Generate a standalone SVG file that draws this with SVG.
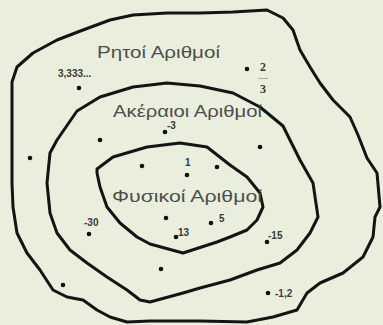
<svg xmlns="http://www.w3.org/2000/svg" width="383" height="325" viewBox="0 0 383 325">
<style>
.set{fill:none;stroke:#141414;stroke-width:3;stroke-linejoin:round;stroke-linecap:round}
.title{font-family:"Liberation Sans",Arial,sans-serif;font-size:17px;fill:#4e4e4e}
.num{font-family:"Liberation Sans",Arial,sans-serif;font-size:10px;font-weight:bold;fill:#3a3a3a}
.frac{font-family:"Liberation Serif",serif;font-size:12px;font-weight:bold;fill:#3a3a3a;text-anchor:middle}
.pt{fill:#111}
</style>
<rect width="383" height="325" fill="#e9efdc"/>
<g id="connectors">
<path id="rational-boundary" class="set" d="M12,153 L12,120 L12,82 L17,67 L33,53 L57,40 L83,30 L110,20 L133,15 L167,13 L200,13 L233,12 L267,10 L283,18 L293,30 L300,50 L310,67 L320,83 L333,100 L350,117 L358,135 L367,158 L377,173 L380,207 L375,217 L373,237 L363,257 L343,273 L320,283 L307,293 L297,310 L273,317 L247,322 L200,321 L150,321 L127,322 L110,317 L97,310 L83,300 L67,297 L53,290 L40,270 L27,253 L17,233 L13,207 L12,183 Z"/>
<path id="integer-boundary" class="set" d="M50,153 L57,140 L77,111 L100,97 L133,87 L167,83 L200,86 L233,93 L260,107 L283,126 L290,140 L300,160 L313,183 L318,217 L310,233 L297,250 L280,263 L257,270 L230,280 L200,288 L183,293 L150,302 L140,300 L127,290 L107,277 L87,263 L70,250 L57,233 L50,213 L47,183 Z"/>
<path id="natural-boundary" class="set" d="M97,169 L113,157 L147,147 L180,143 L207,147 L230,165 L247,177 L260,193 L263,207 L257,220 L247,230 L230,237 L217,242 L183,253 L150,244 L137,237 L120,223 L107,207 L100,187 L97,173 Z"/>
</g>
<g id="rational">
<text class="title" x="97" y="58" textLength="123" lengthAdjust="spacingAndGlyphs">Ρητοί Αριθμοί</text>
</g>
<g id="integer">
<text class="title" x="113" y="117" textLength="149" lengthAdjust="spacingAndGlyphs">Ακέραιοι Αριθμοί</text>
</g>
<g id="natural">
<text class="title" x="112" y="202" textLength="150" lengthAdjust="spacingAndGlyphs">Φυσικοί Αριθμοί</text>
</g>
<g id="points">
<circle class="pt" cx="79" cy="88" r="2.3"/><text class="num" x="58" y="77">3,333...</text>
<circle class="pt" cx="247" cy="69" r="2.3"/><text class="frac" x="263" y="71">2</text><line x1="258" y1="78.5" x2="268" y2="78.5" stroke="#9a9a9a" stroke-width="0.8"/><text class="frac" x="263" y="93">3</text>
<circle class="pt" cx="165" cy="132" r="2.3"/><text class="num" x="167" y="129">-3</text>
<circle class="pt" cx="100" cy="140" r="2.3"/>
<circle class="pt" cx="30" cy="158" r="2.3"/>
<circle class="pt" cx="260" cy="147" r="2.3"/>
<circle class="pt" cx="142" cy="166" r="2.3"/>
<circle class="pt" cx="187" cy="175" r="2.3"/><text class="num" x="185" y="166">1</text>
<circle class="pt" cx="217" cy="167" r="2.3"/>
<circle class="pt" cx="166" cy="218" r="2.3"/>
<circle class="pt" cx="176" cy="237" r="2.3"/><text class="num" x="178" y="236">13</text>
<circle class="pt" cx="211" cy="223" r="2.3"/><text class="num" x="219" y="222">5</text>
<circle class="pt" cx="89" cy="234" r="2.3"/><text class="num" x="84" y="226">-30</text>
<circle class="pt" cx="267" cy="242" r="2.3"/><text class="num" x="268" y="239">-15</text>
<circle class="pt" cx="161" cy="269" r="2.3"/>
<circle class="pt" cx="63" cy="285" r="2.3"/>
<circle class="pt" cx="268" cy="293" r="2.3"/><text class="num" x="275" y="297">-1,2</text>
</g>
</svg>
